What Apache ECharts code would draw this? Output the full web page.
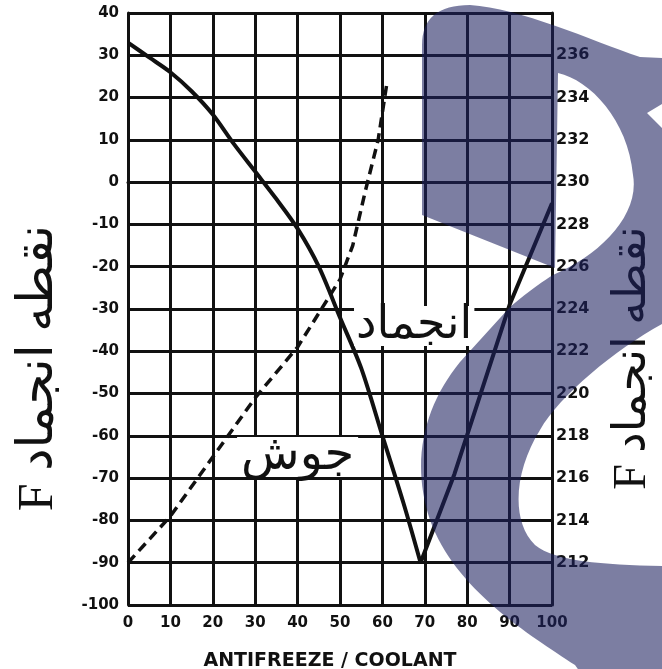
<!DOCTYPE html>
<html>
<head>
<meta charset="utf-8">
<style>
html, body { margin: 0; padding: 0; background: #fff; }
#main { width: 662px; height: 669px; }
</style>
<script src="https://cdn.jsdelivr.net/npm/echarts@6/dist/echarts.min.js"></script>
</head>
<body>
<div id="main"></div>
<script>
// antifreeze share in the coolant (%), freezing point falling branch (F)
var freezeX = [0, 5, 10, 15, 20, 25, 30, 35, 40, 45, 50, 55, 60, 65, 69];
var freezeF = [33, 29.5, 26, 21.5, 16, 9, 2.5, -4, -11, -20, -32, -44, -60, -76, -90];
// freezing point rising branch after the minimum
var riseX = [69, 77, 90, 100];
var riseF = [-90, -69, -29, -5];
// boiling point curve (dashed)
var boilX = [0, 10, 20, 30, 40, 45, 50, 53, 56, 59, 61];
var boilF = [-90, -79, -65, -51, -39, -31, -23, -15, -2, 10, 23];
// right hand scale
var rightTicks = [212, 214, 216, 218, 220, 222, 224, 226, 228, 230, 232, 234, 236];

var freezeName = 'انجماد';
var boilName = 'جوش';
var yName = 'F نقطه انجماد';
var xName = 'ANTIFREEZE / COOLANT';

function pairs(xs, ys) {
  return xs.map(function (x, i) { return [x, ys[i]]; });
}

// watermark logo lying over the scan
var logoPath = 'M422,215 L422,45 Q422,5 470,5 C520,8 590,40 640,57 L700,60 L700,102 L662,104 L647,113 L662,128 L700,130 L700,322 L662,324 C615,350 560,395 540,430 C515,470 510,520 535,545 C560,565 620,565 700,567 L700,700 L600,700 L575,665 C530,635 455,590 430,520 C410,460 425,405 460,362 L510,307 C530,290 545,280 553,275 C600,255 640,215 633,175 C628,120 590,80 558,73 L555,268 Z';
echarts.graphic.registerShape('logo', echarts.graphic.extendPath(logoPath, {}));

var ink = '#111';
var tickFont = {
  color: ink,
  fontFamily: 'DejaVu Sans',
  fontWeight: 'bold',
  fontSize: 15
};

var myChart = echarts.init(document.getElementById('main'));
myChart.setOption({
  animation: false,
  backgroundColor: '#fff',
  grid: { left: 128, right: 110, top: 13, bottom: 64, containLabel: false, outerBoundsMode: 'none' },
  xAxis: {
    type: 'value',
    min: 0,
    max: 100,
    interval: 10,
    name: xName,
    nameLocation: 'middle',
    nameGap: 47,
    nameTextStyle: {
      color: ink,
      fontFamily: 'DejaVu Sans',
      fontWeight: 'bold',
      fontSize: 19,
      padding: [0, 20, 0, 0]
    },
    axisLine: { lineStyle: { color: ink, width: 3 } },
    axisTick: { show: false },
    axisLabel: Object.assign({ margin: 11 }, tickFont),
    splitLine: { show: true, lineStyle: { color: ink, width: 3 } }
  },
  yAxis: [{
    type: 'value',
    min: -100,
    max: 40,
    interval: 10,
    name: yName,
    nameLocation: 'middle',
    nameRotate: 90,
    nameGap: 64,
    nameTextStyle: {
      color: ink,
      fontFamily: 'Liberation Serif, DejaVu Sans',
      fontSize: 50,
      padding: [0, 118, 0, 0]
    },
    axisLine: { show: true, lineStyle: { color: ink, width: 3 } },
    axisTick: { show: false },
    axisLabel: Object.assign({ margin: 9, padding: [8, 0, 0, 0] }, tickFont),
    splitLine: { show: true, lineStyle: { color: ink, width: 3 } }
  }, {
    type: 'value',
    position: 'right',
    min: 210,
    max: 238,
    interval: 2,
    name: yName,
    nameLocation: 'middle',
    nameRotate: 90,
    nameGap: 58,
    nameTextStyle: {
      color: ink,
      fontFamily: 'Liberation Serif, DejaVu Sans',
      fontSize: 46,
      padding: [0, 98, 0, 0]
    },
    axisLine: { show: true, lineStyle: { color: ink, width: 3 } },
    axisTick: { show: false },
    axisLabel: Object.assign({
      margin: 4,
      formatter: function (v) {
        return rightTicks.indexOf(v) >= 0 ? String(v) : '';
      }
    }, tickFont, { fontSize: 16 }),
    splitLine: { show: false }
  }],
  series: [{
    name: freezeName,
    type: 'line',
    data: pairs(freezeX, freezeF),
    smooth: 0.3,
    showSymbol: false,
    lineStyle: { color: ink, width: 4 },
    markPoint: {
      symbol: 'rect',
      symbolSize: 0,
      label: {
        show: true,
        position: 'inside',
        formatter: freezeName,
        color: ink,
        fontFamily: 'DejaVu Sans',
        fontSize: 46,
        lineHeight: 40,
        backgroundColor: '#fff',
        padding: [0, 2]
      },
      data: [{ coord: [67.5, -34] }]
    }
  }, {
    name: freezeName,
    type: 'line',
    data: pairs(riseX, riseF),
    showSymbol: false,
    lineStyle: { color: ink, width: 4 }
  }, {
    name: boilName,
    type: 'line',
    data: pairs(boilX, boilF),
    showSymbol: false,
    lineStyle: { color: ink, width: 3.5, type: [10, 6] },
    markPoint: {
      symbol: 'rect',
      symbolSize: 0,
      label: {
        show: true,
        position: 'inside',
        formatter: boilName,
        color: ink,
        fontFamily: 'DejaVu Sans',
        fontSize: 48,
        lineHeight: 40,
        backgroundColor: '#fff',
        padding: [0, 4]
      },
      data: [{ coord: [40, -65] }]
    }
  }],
  graphic: [{
    type: 'logo',
    z: 100,
    silent: true,
    shape: {},
    style: { fill: 'rgba(30, 32, 95, 0.58)' }
  }]
});
</script>
</body>
</html>
